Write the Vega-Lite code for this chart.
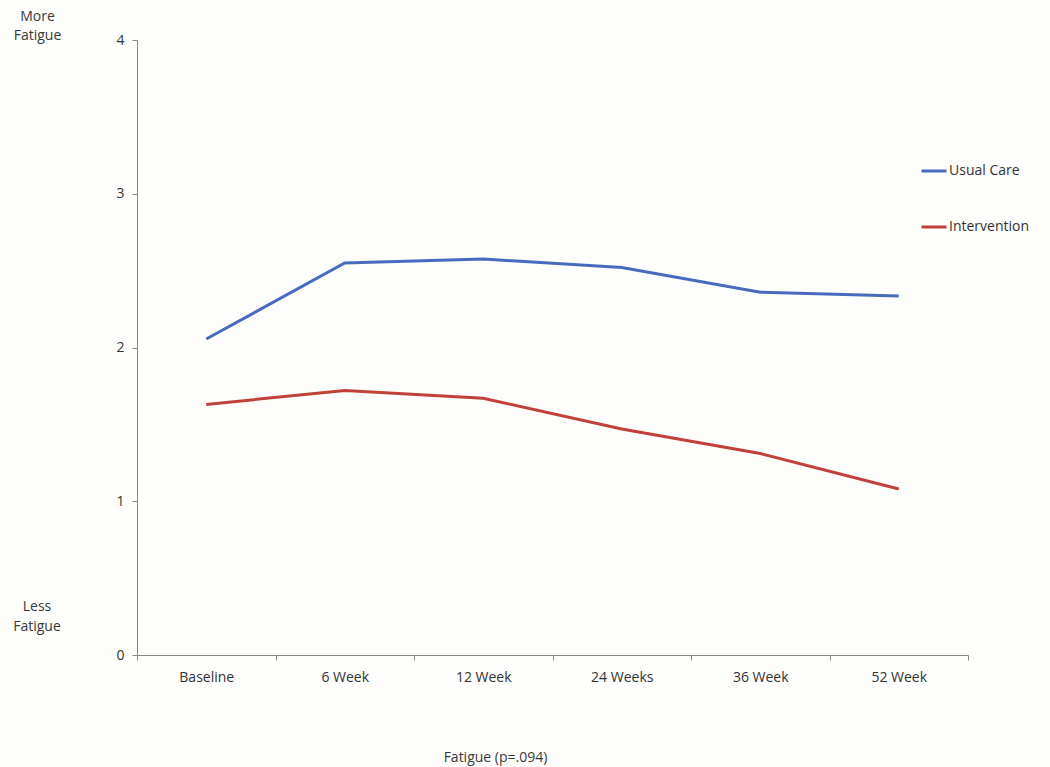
{
  "$schema": "https://vega.github.io/schema/vega-lite/v6.json",
  "width": 831,
  "height": 615,
  "autosize": "none",
  "padding": {"left": 137, "top": 40, "right": 82, "bottom": 112},
  "background": "#fdfdfb",
  "config": {"view": {"stroke": null}, "font": "Open Sans"},
  "title": {
    "text": ["Less", "Fatigue"],
    "orient": "top",
    "anchor": "start",
    "frame": "group",
    "align": "center",
    "baseline": "top",
    "fontSize": 14,
    "fontWeight": "normal",
    "color": "#3a3a3a",
    "lineHeight": 20,
    "offset": 0,
    "dx": -100,
    "dy": 625
  },
  "data": {
    "values": [
      {"week": "Baseline", "group": "Usual Care", "fatigue": 2.055},
      {"week": "6 Week", "group": "Usual Care", "fatigue": 2.55},
      {"week": "12 Week", "group": "Usual Care", "fatigue": 2.575},
      {"week": "24 Weeks", "group": "Usual Care", "fatigue": 2.52},
      {"week": "36 Week", "group": "Usual Care", "fatigue": 2.36},
      {"week": "52 Week", "group": "Usual Care", "fatigue": 2.335},
      {"week": "Baseline", "group": "Intervention", "fatigue": 1.63},
      {"week": "6 Week", "group": "Intervention", "fatigue": 1.72},
      {"week": "12 Week", "group": "Intervention", "fatigue": 1.67},
      {"week": "24 Weeks", "group": "Intervention", "fatigue": 1.47},
      {"week": "36 Week", "group": "Intervention", "fatigue": 1.31},
      {"week": "52 Week", "group": "Intervention", "fatigue": 1.08}
    ]
  },
  "mark": {"type": "line", "strokeWidth": 3},
  "encoding": {
    "x": {
      "field": "week",
      "type": "nominal",
      "sort": ["Baseline", "6 Week", "12 Week", "24 Weeks", "36 Week", "52 Week"],
      "scale": {"paddingInner": 0, "paddingOuter": 0},
      "axis": {
        "title": "Fatigue (p=.094)",
        "titleFontSize": 14,
        "titleFontWeight": "normal",
        "titleColor": "#3a3a3a",
        "titleX": 358,
        "titleY": 102,
        "titleBaseline": "middle",
        "titleAlign": "center",
        "labelAngle": 0,
        "labelFontSize": 14,
        "labelColor": "#333333",
        "labelPadding": 10,
        "tickBand": "extent",
        "tickSize": 5,
        "tickColor": "#888888",
        "domainColor": "#888888",
        "grid": false
      }
    },
    "y": {
      "field": "fatigue",
      "type": "quantitative",
      "scale": {"domain": [0, 4]},
      "axis": {
        "values": [0, 1, 2, 3, 4],
        "title": ["More", "Fatigue"],
        "titleAngle": 0,
        "titleX": -100,
        "titleY": -31,
        "titleAlign": "center",
        "titleBaseline": "top",
        "titleFontSize": 14,
        "titleFontWeight": "normal",
        "titleColor": "#3a3a3a",
        "titleLineHeight": 19,
        "labelFontSize": 14,
        "labelColor": "#333333",
        "labelPadding": 8,
        "tickSize": 5,
        "tickColor": "#888888",
        "domainColor": "#888888",
        "grid": false
      }
    },
    "color": {
      "field": "group",
      "type": "nominal",
      "scale": {"domain": ["Usual Care", "Intervention"], "range": ["#4a6bbd", "#c0403a"]},
      "legend": {
        "orient": "none",
        "legendX": 783,
        "legendY": 117,
        "title": null,
        "symbolType": "stroke",
        "symbolSize": 625,
        "symbolStrokeWidth": 3,
        "labelFontSize": 14,
        "labelColor": "#333333",
        "labelOffset": 1,
        "rowPadding": 35
      }
    }
  }
}
